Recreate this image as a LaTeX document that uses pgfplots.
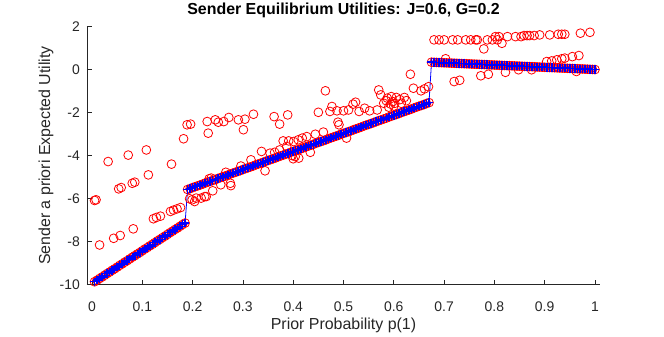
\documentclass[border=0pt]{standalone}
\usepackage{fontspec}
\setmainfont{Liberation Sans}
\usepackage{pgfplots}
\pgfplotsset{compat=1.18}
\usepackage{pgfplotstable}
\definecolor{axgray}{gray}{0.15}

\pgfplotstableread{
x y
0.005 -9.87
0.010 -9.80
0.015 -9.72
0.020 -9.65
0.025 -9.57
0.030 -9.49
0.035 -9.42
0.040 -9.34
0.045 -9.27
0.050 -9.19
0.055 -9.11
0.060 -9.04
0.065 -8.96
0.070 -8.89
0.075 -8.81
0.080 -8.73
0.085 -8.66
0.090 -8.58
0.095 -8.51
0.100 -8.43
0.105 -8.35
0.110 -8.28
0.115 -8.20
0.120 -8.13
0.125 -8.05
0.130 -7.97
0.135 -7.90
0.140 -7.82
0.145 -7.75
0.150 -7.67
0.155 -7.59
0.160 -7.52
0.165 -7.44
0.170 -7.37
0.175 -7.29
0.180 -7.21
0.185 -7.14
0.190 -5.58
0.195 -5.54
0.200 -5.49
0.205 -5.45
0.210 -5.41
0.215 -5.37
0.220 -5.33
0.225 -5.28
0.230 -5.24
0.235 -5.20
0.240 -5.16
0.245 -5.12
0.250 -5.07
0.255 -5.03
0.260 -4.99
0.265 -4.95
0.270 -4.91
0.275 -4.86
0.280 -4.82
0.285 -4.78
0.290 -4.74
0.295 -4.70
0.300 -4.65
0.305 -4.61
0.310 -4.57
0.315 -4.53
0.320 -4.49
0.325 -4.44
0.330 -4.40
0.335 -4.36
0.340 -4.32
0.345 -4.27
0.350 -4.23
0.355 -4.19
0.360 -4.15
0.365 -4.11
0.370 -4.06
0.375 -4.02
0.380 -3.98
0.385 -3.94
0.390 -3.90
0.395 -3.85
0.400 -3.81
0.405 -3.77
0.410 -3.73
0.415 -3.69
0.420 -3.64
0.425 -3.60
0.430 -3.56
0.435 -3.52
0.440 -3.48
0.445 -3.43
0.450 -3.39
0.455 -3.35
0.460 -3.31
0.465 -3.27
0.470 -3.22
0.475 -3.18
0.480 -3.14
0.485 -3.10
0.490 -3.06
0.495 -3.01
0.500 -2.97
0.505 -2.93
0.510 -2.89
0.515 -2.85
0.520 -2.80
0.525 -2.76
0.530 -2.72
0.535 -2.68
0.540 -2.63
0.545 -2.59
0.550 -2.55
0.555 -2.51
0.560 -2.47
0.565 -2.42
0.570 -2.38
0.575 -2.34
0.580 -2.30
0.585 -2.26
0.590 -2.21
0.595 -2.17
0.600 -2.13
0.605 -2.09
0.610 -2.05
0.615 -2.00
0.620 -1.96
0.625 -1.92
0.630 -1.88
0.635 -1.84
0.640 -1.79
0.645 -1.75
0.650 -1.71
0.655 -1.67
0.660 -1.63
0.665 -1.58
0.670 -1.54
0.675 0.340
0.680 0.335
0.685 0.330
0.690 0.324
0.695 0.319
0.700 0.314
0.705 0.309
0.710 0.303
0.715 0.298
0.720 0.293
0.725 0.288
0.730 0.282
0.735 0.277
0.740 0.272
0.745 0.267
0.750 0.262
0.755 0.256
0.760 0.251
0.765 0.246
0.770 0.241
0.775 0.235
0.780 0.230
0.785 0.225
0.790 0.220
0.795 0.214
0.800 0.209
0.805 0.204
0.810 0.199
0.815 0.194
0.820 0.188
0.825 0.183
0.830 0.178
0.835 0.173
0.840 0.167
0.845 0.162
0.850 0.157
0.855 0.152
0.860 0.146
0.865 0.141
0.870 0.136
0.875 0.131
0.880 0.126
0.885 0.120
0.890 0.115
0.895 0.110
0.900 0.105
0.905 0.099
0.910 0.094
0.915 0.089
0.920 0.084
0.925 0.078
0.930 0.073
0.935 0.068
0.940 0.063
0.945 0.058
0.950 0.052
0.955 0.047
0.960 0.042
0.965 0.037
0.970 0.031
0.975 0.026
0.980 0.021
0.985 0.016
0.990 0.010
0.995 0.005
1.000 0.000
}\bluedata

\pgfplotstableread{
x y
0.005 -6.09
0.008 -6.06
0.015 -8.16
0.032 -4.28
0.043 -7.85
0.053 -5.55
0.058 -5.49
0.056 -7.72
0.072 -3.98
0.080 -5.29
0.082 -7.41
0.085 -5.24
0.108 -3.74
0.112 -4.90
0.122 -6.94
0.128 -6.88
0.136 -6.82
0.156 -6.60
0.158 -4.40
0.162 -6.54
0.169 -6.48
0.176 -6.42
0.182 -3.22
0.189 -2.57
0.196 -2.54
0.199 -6.06
0.194 -6.01
0.204 -6.14
0.207 -5.98
0.217 -5.98
0.224 -5.91
0.227 -5.91
0.229 -2.42
0.231 -2.96
0.233 -5.08
0.237 -5.05
0.240 -5.64
0.245 -2.34
0.251 -2.45
0.256 -5.36
0.262 -2.42
0.266 -4.78
0.272 -2.23
0.275 -5.29
0.276 -5.40
0.291 -2.34
0.296 -4.49
0.301 -2.80
0.304 -2.31
0.316 -4.20
0.321 -2.08
0.337 -3.81
0.344 -4.71
0.354 -3.89
0.362 -2.19
0.363 -3.85
0.373 -3.74
0.373 -2.54
0.380 -3.32
0.387 -3.58
0.389 -2.11
0.391 -3.32
0.398 -4.00
0.400 -4.15
0.401 -3.35
0.404 -4.05
0.410 -3.27
0.411 -4.12
0.418 -3.19
0.427 -3.12
0.434 -3.85
0.444 -3.01
0.450 -1.99
0.460 -2.91
0.464 -0.99
0.473 -1.95
0.477 -1.72
0.487 -1.92
0.489 -2.45
0.491 -2.57
0.500 -1.92
0.506 -3.19
0.510 -1.88
0.519 -1.61
0.524 -1.52
0.531 -1.95
0.542 -1.80
0.552 -1.92
0.567 -1.88
0.570 -0.95
0.574 -1.18
0.580 -1.57
0.585 -1.45
0.587 -1.33
0.590 -1.75
0.594 -1.61
0.595 -1.26
0.598 -1.49
0.600 -1.70
0.602 -1.57
0.605 -1.30
0.612 -1.40
0.615 -1.57
0.621 -1.30
0.625 -1.45
0.633 -0.22
0.639 -0.87
0.654 -0.99
0.661 -0.90
0.669 -0.80
0.680 1.38
0.690 1.38
0.700 1.38
0.703 0.50
0.717 1.38
0.720 -0.56
0.727 1.38
0.731 -0.50
0.743 1.38
0.753 1.38
0.763 1.38
0.766 1.38
0.773 -0.29
0.779 0.96
0.786 1.38
0.788 -0.22
0.796 1.38
0.802 1.53
0.806 1.38
0.809 1.53
0.815 1.22
0.822 -0.13
0.826 1.53
0.842 1.53
0.848 -0.01
0.853 1.53
0.859 1.58
0.865 1.58
0.870 1.58
0.874 -0.01
0.879 1.58
0.890 1.61
0.904 0.37
0.910 1.61
0.914 0.40
0.924 0.45
0.927 1.64
0.934 1.64
0.934 0.50
0.940 1.64
0.940 0.53
0.955 0.60
0.963 -0.09
0.968 0.65
0.971 1.69
0.990 1.73
}\reddata

\begin{document}
\begin{tikzpicture}
\path (-87bp,-49bp) rectangle (577bp,283bp);
\begin{axis}[
  at={(0,0)}, anchor=south west,
  scale only axis, width=513bp, height=258bp,
  xmin=-0.01, xmax=1.01, ymin=-10, ymax=2,
  axis lines*=left,
  axis line style={axgray, line width=0.6bp},
  tick style={axgray, line width=0.6bp},
  major tick length=5bp, tick align=inside,
  xtick={0,0.1,0.2,0.3,0.4,0.5,0.6,0.7,0.8,0.9,1},
  xticklabels={0,0.1,0.2,0.3,0.4,0.5,0.6,0.7,0.8,0.9,1},
  ytick={-10,-8,-6,-4,-2,0,2},
  yticklabels={-10,-8,-6,-4,-2,0,2},
  ticklabel style={font=\fontsize{14}{16}\selectfont, text=axgray},
  xticklabel style={anchor=base, yshift=-26.5bp},
  yticklabel style={anchor=east, inner sep=0pt, xshift=-7bp},
  xlabel={Prior Probability p(1)},
  ylabel={Sender a priori Expected Utility},
  label style={font=\fontsize{16}{19}\selectfont, text=axgray},
  xlabel style={at={(axis description cs:0.5,-0.1744)}, anchor=base},
  ylabel style={at={(axis description cs:-0.0721,0.5)}, anchor=base},
  title={Sender Equilibrium Utilities: J=0.6, G=0.2},
  title style={at={(axis description cs:0.5,1.022)}, anchor=base,
    font=\bfseries\fontsize{16}{19}\selectfont},
]
\addplot[only marks, mark=o, red, mark size=4.4bp, line width=0.8bp] table {\bluedata};
\addplot[only marks, mark=o, red, mark size=4.4bp, line width=0.8bp] table {\reddata};
\addplot[blue, line width=0.8bp, mark=+, mark size=4.2bp, mark options={line width=1.5bp}] table {\bluedata};
\end{axis}
\end{tikzpicture}
\end{document}
